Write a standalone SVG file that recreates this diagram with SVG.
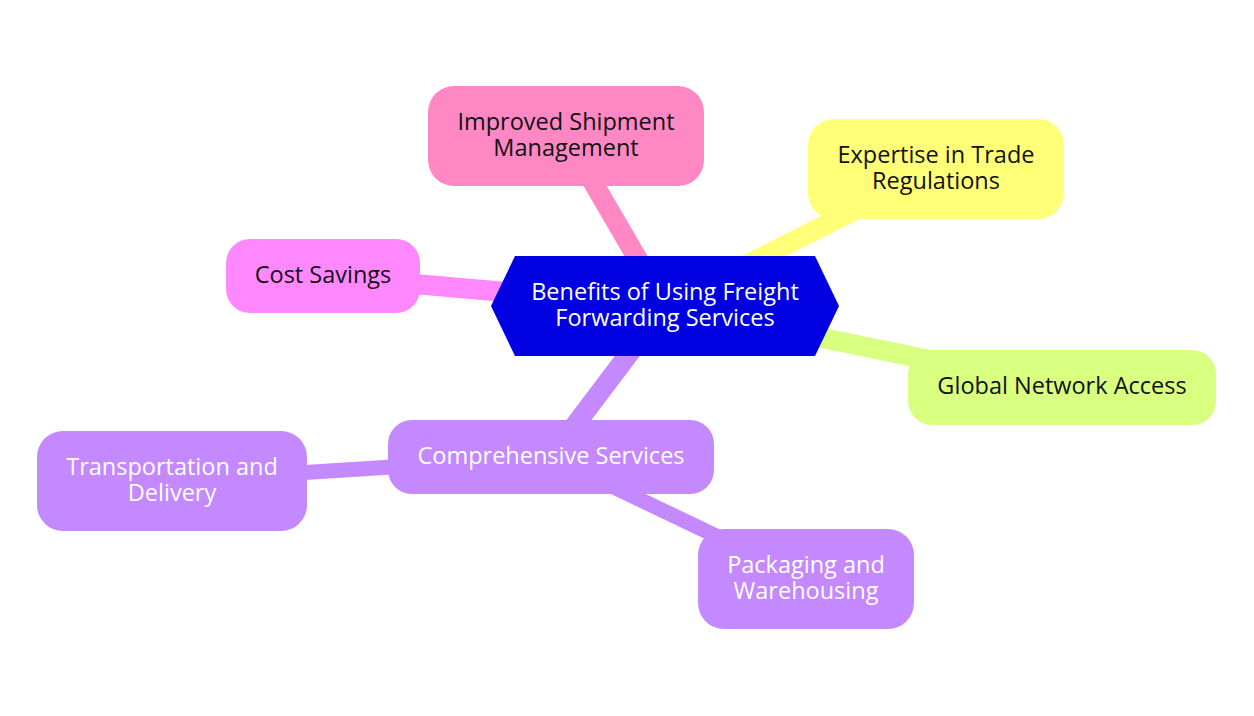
<svg xmlns="http://www.w3.org/2000/svg" width="1254" height="716" viewBox="0 0 1254 716">
<style>
.t{font-family:"Open Sans","DejaVu Sans",sans-serif;font-size:23.5px;text-anchor:middle}
.dk{fill:#111}
.wh{fill:#fff}
.e1{stroke-width:20;fill:none;stroke-linecap:butt}
.e2{stroke-width:15;fill:none;stroke-linecap:butt}
</style>
<rect width="1254" height="716" fill="#fff"/>
<g id="connectors">
<line class="e1" x1="665" y1="306" x2="566" y2="136" stroke="#ff88c4"/>
<line class="e1" x1="665" y1="306" x2="936" y2="169" stroke="#ffff78"/>
<line class="e1" x1="665" y1="306" x2="323" y2="276" stroke="#ff88ff"/>
<line class="e1" x1="665" y1="306" x2="1062" y2="387" stroke="#d9ff80"/>
<line class="e1" x1="665" y1="306" x2="551" y2="457" stroke="#c488ff"/>
<line class="e2" x1="551" y1="457" x2="172" y2="481" stroke="#c488ff"/>
<line class="e2" x1="551" y1="457" x2="806" y2="579" stroke="#c488ff"/>
</g>
<g id="improved">
<rect x="428" y="86" width="276" height="100" rx="26" fill="#ff88c4"/>
<text class="t dk" x="566" y="130">Improved Shipment<tspan x="566" dy="26">Management</tspan></text>
</g>
<g id="expertise">
<rect x="808" y="119" width="256" height="100" rx="26" fill="#ffff78"/>
<text class="t dk" x="936" y="163">Expertise in Trade<tspan x="936" dy="26">Regulations</tspan></text>
</g>
<g id="cost">
<rect x="226" y="239" width="194" height="74" rx="24" fill="#ff88ff"/>
<text class="t dk" x="323" y="283">Cost Savings</text>
</g>
<g id="global">
<rect x="908" y="350" width="308" height="75" rx="24" fill="#d9ff80"/>
<text class="t dk" x="1062" y="394">Global Network Access</text>
</g>
<g id="central">
<polygon points="515,256 815,256 839,306 815,356 515,356 491,306" fill="#0000e0"/>
<text class="t wh" x="665" y="300">Benefits of Using Freight<tspan x="665" dy="26">Forwarding Services</tspan></text>
</g>
<g id="comprehensive">
<rect x="388" y="420" width="326" height="74" rx="24" fill="#c488ff"/>
<text class="t wh" x="551" y="464">Comprehensive Services</text>
</g>
<g id="transportation">
<rect x="37" y="431" width="270" height="100" rx="26" fill="#c488ff"/>
<text class="t wh" x="172" y="475">Transportation and<tspan x="172" dy="26">Delivery</tspan></text>
</g>
<g id="packaging">
<rect x="698" y="529" width="216" height="100" rx="26" fill="#c488ff"/>
<text class="t wh" x="806" y="573">Packaging and<tspan x="806" dy="26">Warehousing</tspan></text>
</g>
</svg>
